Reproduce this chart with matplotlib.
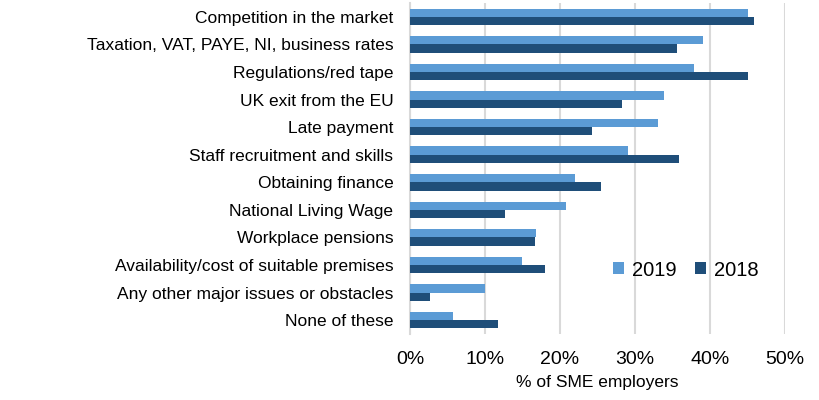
import matplotlib
matplotlib.use("Agg")
import matplotlib.pyplot as plt
import numpy as np

categories = ["Competition in the market",
              "Taxation, VAT, PAYE, NI, business rates",
              "Regulations/red tape",
              "UK exit from the EU",
              "Late payment",
              "Staff recruitment and skills",
              "Obtaining finance",
              "National Living Wage",
              "Workplace pensions",
              "Availability/cost of suitable premises",
              "Any other major issues or obstacles",
              "None of these"]
values_2019 = [45.0, 39.0, 37.9, 33.9, 33.1, 29.1, 22.0, 20.8, 16.8, 14.9, 10.0, 5.7]
values_2018 = [45.9, 35.6, 45.0, 28.2, 24.3, 35.9, 25.4, 12.6, 16.6, 18.0, 2.6, 11.7]
xticks = [0, 10, 20, 30, 40, 50]
xtick_labels = ["0%", "10%", "20%", "30%", "40%", "50%"]

plt.rcParams['font.family'] = ['Liberation Sans', 'DejaVu Sans']

fig = plt.figure(figsize=(8.19, 4.0), dpi=100)
ax = fig.add_axes([410/819, 1-334/400, 375/819, (334-3)/400])

y = np.arange(len(categories))
h = 0.3
c19 = "#5B9BD5"
c18 = "#1F4E79"
ax.barh(y - h/2, values_2019, height=h, color=c19, label="2019", zorder=3)
ax.barh(y + h/2, values_2018, height=h, color=c18, label="2018", zorder=3)

ax.set_xlim(0, 50)
ax.set_ylim(len(categories) - 0.5, -0.5)
ax.set_yticks(y)
ax.set_yticklabels(categories, fontsize=12.5)
ax.set_xticks(xticks)
ax.set_xticklabels(xtick_labels, fontsize=14)
ax.tick_params(axis='y', length=0, pad=12)
ax.tick_params(axis='x', length=0, pad=12)
ax.grid(axis='x', color="#D9D9D9", linewidth=1.5, zorder=0)
for s in ["top", "right", "bottom"]:
    ax.spines[s].set_visible(False)
ax.spines["left"].set_color("#D9D9D9")
ax.spines["left"].set_linewidth(1.5)
ax.set_xlabel("% of SME employers", fontsize=12.5, labelpad=5)

ax.legend(loc="center left", bbox_to_anchor=(595/819, 1-270/400),
          bbox_transform=fig.transFigure, frameon=False, fontsize=14.5,
          ncol=2, handlelength=0.55, handleheight=0.55, handletextpad=0.4,
          columnspacing=0.9)

fig.savefig("out.png", dpi=100)
